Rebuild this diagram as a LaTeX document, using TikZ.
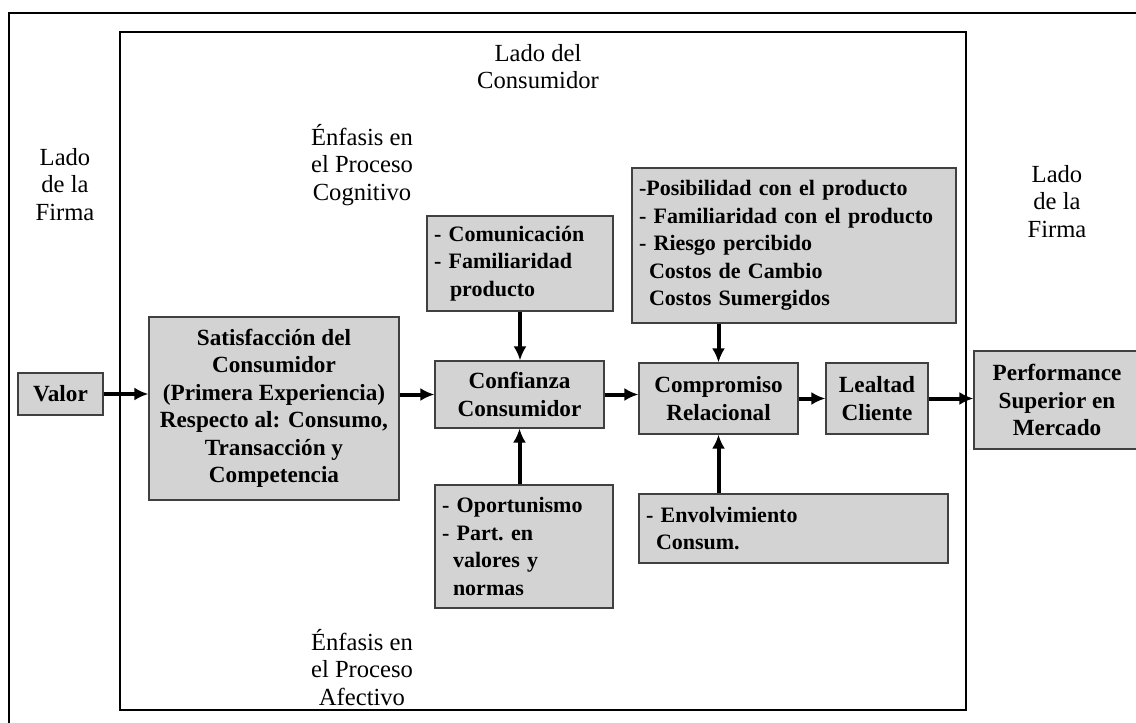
\documentclass[tikz,border=0pt]{standalone}
\usepackage{fontspec}
\setmainfont{Liberation Serif}
\usepackage{xcolor}
\usepackage{tikz}
\usetikzlibrary{arrows.meta,positioning}
\definecolor{boxgray}{RGB}{211,211,211}
\tikzset{
  gbox/.style={draw=black!75, line width=0.6pt, fill=boxgray, align=center, inner sep=2pt, font=\fontsize{11.6}{13.75}\selectfont\bfseries},
  lbox/.style={gbox, align=left, inner xsep=3.5pt, font=\fontsize{11}{13.75}\selectfont\bfseries},
  side/.style={align=center, inner sep=1pt, font=\fontsize{12.3}{13.9}\selectfont},
  flow/.style={-{Latex[length=7pt,width=6.5pt]}, line width=2pt}
}

\begin{document}
\begin{tikzpicture}[x=0.5pt, y=-0.5pt]
	\useasboundingbox (0,0) rectangle (1136,723);
	\clip (0,0) rectangle (1136,723);
	\draw[line width=1pt] (9,13) rectangle (1142,730);
	\draw[line width=1.3pt] (120,32) rectangle (966,710);

	\node[side] (ladoc) at (538,66.5) {Lado del\\Consumidor};
	\node[side] (cogn) at (362,165) {Énfasis en\\el Proceso\\Cognitivo};
	\node[side] (afect) at (362,667.5) {Énfasis en\\el Proceso\\Afectivo};
	\node[side] (firmal) at (65,184.5) {Lado\\de la\\Firma};
	\node[side] (firmar) at (1057,201.5) {Lado\\de la\\Firma};

	\node[gbox, minimum width=42.5pt, minimum height=21pt] (valor) at (60.5,394) {Valor};
	\node[gbox, minimum width=125pt, minimum height=91.5pt] (satis) at (274,408.5)
		{Satisfacción del\\Consumidor\\(Primera Experiencia)\\Respecto al: Consumo,\\Transacción y\\Competencia};
	\node[lbox, minimum width=93pt, minimum height=47.5pt, text width=86pt] (comun) at (520,263.5)
		{- Comunicación\\- Familiaridad\\\hspace*{8pt}producto};
	\node[gbox, minimum width=84.5pt, minimum height=33.5pt] (confi) at (519.5,394.5) {Confianza\\Consumidor};
	\node[lbox, minimum width=89pt, minimum height=61.5pt, text width=82pt] (oport) at (524,546.5)
		{- Oportunismo\\- Part.\ en\\\hspace*{5.5pt}valores y\\\hspace*{5.5pt}normas};
	\node[lbox, minimum width=162pt, minimum height=77.5pt, text width=155pt] (posib) at (794,245.5)
		{-Posibilidad con el producto\\- Familiaridad con el producto\\- Riesgo percibido\\\hspace*{5pt}Costos de Cambio\\\hspace*{5pt}Costos Sumergidos};
	\node[gbox, minimum width=79.5pt, minimum height=35.5pt] (compr) at (718.5,398.5) {Compromiso\\Relacional};
	\node[gbox, minimum width=51pt, minimum height=35.5pt] (lealt) at (877,398.5) {Lealtad\\Cliente};
	\node[lbox, minimum width=154.5pt, minimum height=34.5pt, text width=147.5pt] (envol) at (793.5,528.5)
		{- Envolvimiento\\\hspace*{5pt}Consum.};
	\node[gbox, minimum width=83pt, minimum height=49pt] (perf) at (1057,400) {Performance\\Superior en\\Mercado};

	\draw[flow] (valor.east) -- (valor.east -| satis.west);
	\draw[flow] (satis.east |- confi.west) -- (confi.west);
	\draw[flow] (comun.south) -- (comun.south |- confi.north);
	\draw[flow] (oport.north -| confi.south) -- (confi.south);
	\draw[flow] (confi.east) -- (confi.east -| compr.west);
	\draw[flow] (posib.south -| compr.north) -- (compr.north);
	\draw[flow] (envol.north -| compr.south) -- (compr.south);
	\draw[flow] (compr.east) -- (lealt.west);
	\draw[flow] (lealt.east) -- (lealt.east -| perf.west);
\end{tikzpicture}
\end{document}
